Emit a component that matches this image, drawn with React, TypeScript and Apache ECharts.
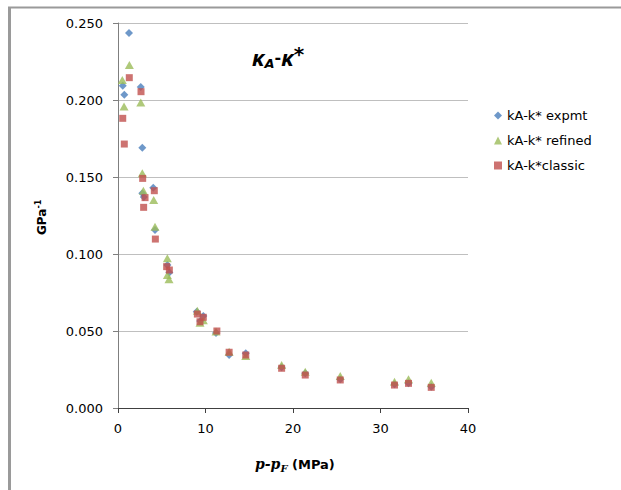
import React, { useEffect, useRef } from "react";
import * as echarts from "echarts";

const seriesNames = ["kA-k* expmt", "kA-k* refined", "kA-k*classic"];
const seriesColors = ["#4A7EBB", "#9BBB59", "#C0504D"];

const expmtX = [0.54, 0.72, 1.26, 2.6, 2.78, 2.78, 2.95, 4.03, 4.23, 5.64, 5.87, 9.0, 9.4, 9.75, 11.2, 12.7, 14.6, 18.7, 21.4, 25.4, 31.6, 33.2, 35.8];
const expmtY = [0.2093, 0.2034, 0.2435, 0.2084, 0.169, 0.1394, 0.137, 0.143, 0.1156, 0.0929, 0.088, 0.0625, 0.0565, 0.0597, 0.0487, 0.0344, 0.0355, 0.0264, 0.0225, 0.0186, 0.0154, 0.016, 0.0138];

const refinedX = [0.49, 0.69, 1.3, 2.6, 2.78, 2.9, 4.08, 4.23, 5.64, 5.64, 5.83, 9.07, 9.37, 9.75, 11.2, 12.7, 14.6, 18.7, 21.4, 25.4, 31.6, 33.2, 35.8];
const refinedY = [0.213, 0.1957, 0.2227, 0.1983, 0.1524, 0.141, 0.135, 0.1177, 0.0972, 0.0864, 0.0836, 0.0632, 0.0554, 0.057, 0.0496, 0.0366, 0.0338, 0.0279, 0.0236, 0.0208, 0.0171, 0.0186, 0.0164];

const classicX = [0.54, 0.72, 1.29, 2.63, 2.82, 3.09, 2.93, 4.15, 4.27, 5.56, 5.87, 9.07, 9.37, 9.75, 11.3, 12.7, 14.6, 18.7, 21.4, 25.4, 31.6, 33.2, 35.8];
const classicY = [0.1881, 0.1714, 0.2145, 0.2054, 0.1491, 0.1366, 0.1303, 0.1411, 0.1097, 0.0918, 0.0896, 0.061, 0.056, 0.0589, 0.05, 0.0362, 0.0344, 0.0258, 0.0214, 0.0182, 0.0149, 0.016, 0.0134];

const xTicks = { min: 0, max: 40, interval: 10 };
const yTicks = { min: 0, max: 0.25, interval: 0.05 };

const zip = (xs: number[], ys: number[]) => xs.map((x, i) => [x, ys[i]]);

export default function App() {
  const ref = useRef<HTMLDivElement>(null);
  useEffect(() => {
    if (!ref.current) return;
    const chart = echarts.init(ref.current, undefined, { renderer: "svg" });
    const sans = "DejaVu Sans";
    chart.setOption({
      animation: false,
      backgroundColor: "#ffffff",
      grid: { left: 118, right: 153, top: 23, bottom: 82, containLabel: false },
      legend: {
        orient: "vertical",
        left: 489,
        top: 104,
        itemWidth: 8,
        itemHeight: 8,
        itemGap: 12,
        textStyle: { fontFamily: sans, fontSize: 13, color: "#000" },
        data: seriesNames,
      },
      xAxis: {
        type: "value",
        min: xTicks.min,
        max: xTicks.max,
        interval: xTicks.interval,
        axisLine: { show: true, lineStyle: { color: "#404040", width: 1 } },
        axisTick: { show: true, length: 5, lineStyle: { color: "#404040" } },
        axisLabel: { fontFamily: sans, fontSize: 13, color: "#000", margin: 14 },
        splitLine: { show: false },
      },
      yAxis: {
        type: "value",
        min: yTicks.min,
        max: yTicks.max,
        interval: yTicks.interval,
        axisLine: { show: true, lineStyle: { color: "#7f7f7f", width: 1 } },
        axisTick: { show: true, length: 5, lineStyle: { color: "#7f7f7f" } },
        axisLabel: {
          fontFamily: sans,
          fontSize: 13,
          color: "#000",
          margin: 15,
          formatter: (v: number) => v.toFixed(3),
        },
        splitLine: { show: true, lineStyle: { color: "#BFBFBF", width: 1 } },
      },
      series: [
        {
          name: seriesNames[0],
          type: "scatter",
          symbol: "diamond",
          symbolSize: [8, 8],
          itemStyle: { color: seriesColors[0] },
          data: zip(expmtX, expmtY),
        },
        {
          name: seriesNames[1],
          type: "scatter",
          symbol: "triangle",
          symbolSize: [9, 8],
          itemStyle: { color: seriesColors[1] },
          data: zip(refinedX, refinedY),
        },
        {
          name: seriesNames[2],
          type: "scatter",
          symbol: "rect",
          symbolSize: [7, 7],
          itemStyle: { color: seriesColors[2] },
          data: zip(classicX, classicY),
        },
      ],
      graphic: [
        { type: "line", shape: { x1: 8, y1: 7.5, x2: 621, y2: 7.5 }, style: { stroke: "#9a9a9a", lineWidth: 2 } },
        { type: "line", shape: { x1: 9.5, y1: 7, x2: 9.5, y2: 490 }, style: { stroke: "#9a9a9a", lineWidth: 3 } },
        {
          type: "text",
          x: 252,
          y: 44,
          style: {
            text: "{k|κ}{s|A}{m|-}{k|κ}{p|*}",
            rich: {
              k: { fontFamily: "Noto Sans", fontStyle: "italic", fontWeight: "bold", fontSize: 22, lineHeight: 26, verticalAlign: "middle" },
              s: { fontFamily: sans, fontStyle: "italic", fontWeight: "bold", fontSize: 13, lineHeight: 26, verticalAlign: "bottom" },
              m: { fontFamily: sans, fontWeight: "bold", fontSize: 16, lineHeight: 26, verticalAlign: "middle" },
              p: { fontFamily: sans, fontWeight: "bold", fontSize: 20, lineHeight: 26, verticalAlign: "top" },
            },
            fill: "#000",
          },
        },
        {
          type: "text",
          x: 255,
          y: 455,
          style: {
            text: "{i|p-p}{f|F}{n| (MPa)}",
            rich: {
              i: { fontFamily: "DejaVu Serif", fontStyle: "italic", fontWeight: "bold", fontSize: 14, lineHeight: 18, verticalAlign: "middle" },
              f: { fontFamily: "DejaVu Serif", fontStyle: "italic", fontWeight: "bold", fontSize: 10, lineHeight: 18, verticalAlign: "bottom" },
              n: { fontFamily: sans, fontWeight: "bold", fontSize: 13, lineHeight: 18, verticalAlign: "middle" },
            },
            fill: "#000",
          },
        },
        {
          type: "text",
          x: 34,
          y: 235,
          rotation: Math.PI / 2,
          style: {
            text: "{g|GPa}{e|-1}",
            rich: {
              g: { fontFamily: sans, fontWeight: "bold", fontSize: 12, lineHeight: 16, verticalAlign: "middle" },
              e: { fontFamily: sans, fontWeight: "bold", fontSize: 8, lineHeight: 16, verticalAlign: "top" },
            },
            fill: "#000",
          },
        },
      ],
    });
    return () => chart.dispose();
  }, []);
  return <div ref={ref} style={{ position: "fixed", left: 0, top: 0, width: 621, height: 490 }} />;
}
